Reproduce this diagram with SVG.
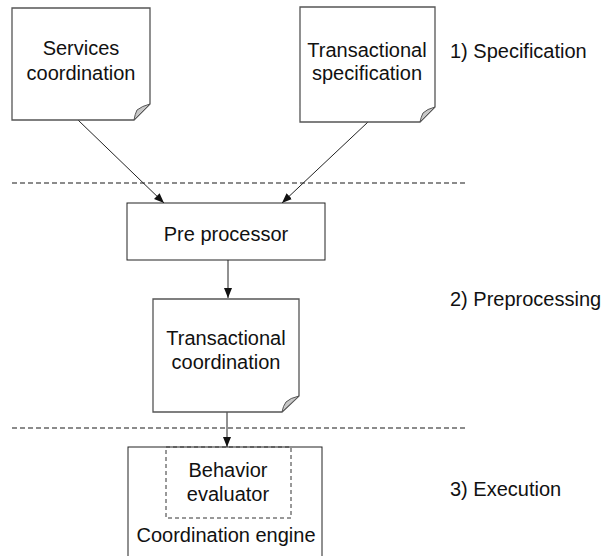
<svg xmlns="http://www.w3.org/2000/svg" width="616" height="556" viewBox="0 0 616 556">
<defs>
<style>
.doc{fill:#ffffff;stroke:#555;stroke-width:1.3}
.fold{fill:#c8c8c8;stroke:#555;stroke-width:1}
.box{fill:#ffffff;stroke:#222;stroke-width:1}
.inner{fill:none;stroke:#333;stroke-width:1;stroke-dasharray:4,3}
.sep{stroke:#666;stroke-width:1.3;stroke-dasharray:5,3;fill:none}
.edge{stroke:#222;stroke-width:1;fill:none;marker-end:url(#ah)}
text{font-family:"Liberation Sans",Arial,sans-serif;font-size:20px;fill:#111}
.c{text-anchor:middle}
</style>
<marker id="ah" viewBox="0 0 10 10" refX="10" refY="5" markerWidth="10" markerHeight="10" markerUnits="userSpaceOnUse" orient="auto">
<path d="M0,1 L10,5 L0,9 Z" fill="#111"/>
</marker>
</defs>
<g id="separators">
<line class="sep" x1="12" y1="183" x2="468" y2="183"/>
<line class="sep" x1="12" y1="428" x2="468" y2="428"/>
</g>
<g id="connectors">
<line class="edge" x1="78" y1="120" x2="164" y2="203"/>
<line class="edge" x1="368" y1="122" x2="282" y2="203"/>
<line class="edge" x1="228" y1="260" x2="228" y2="298"/>
<line class="edge" x1="227" y1="412" x2="227" y2="447"/>
</g>
<g id="services-coordination">
<path class="doc" d="M12,8 H150 V104 L134,120 H12 Z"/>
<path class="fold" d="M134,120 L150,104 Q142,106 137,110 Q135,114 134,120 Z"/>
<text class="c" x="81" y="55">Services</text>
<text class="c" x="81" y="80">coordination</text>
</g>
<g id="transactional-specification">
<path class="doc" d="M300,7 H435 V107 L420,122 H300 Z"/>
<path class="fold" d="M420,122 L435,107 Q427,109 423,113 Q421,117 420,122 Z"/>
<text class="c" x="367" y="57">Transactional</text>
<text class="c" x="367" y="80">specification</text>
</g>
<g id="pre-processor">
<rect class="box" x="127" y="203" width="198" height="57"/>
<text class="c" x="226" y="241">Pre processor</text>
</g>
<g id="transactional-coordination">
<path class="doc" d="M153,299 H299 V396 L282,412 H153 Z"/>
<path class="fold" d="M282,412 L299,396 Q290,398 286,402 Q283,406 282,412 Z"/>
<text class="c" x="226" y="345">Transactional</text>
<text class="c" x="226" y="369">coordination</text>
</g>
<g id="coordination-engine">
<rect class="box" x="128" y="447" width="194" height="120"/>
<text class="c" x="226" y="542">Coordination engine</text>
</g>
<g id="behavior-evaluator">
<rect class="inner" x="166" y="447" width="125" height="71"/>
<text class="c" x="228" y="477">Behavior</text>
<text class="c" x="228" y="501">evaluator</text>
</g>
<g id="phase-labels">
<text x="450" y="58">1) Specification</text>
<text x="450" y="306">2) Preprocessing</text>
<text x="450" y="496">3) Execution</text>
</g>
</svg>
